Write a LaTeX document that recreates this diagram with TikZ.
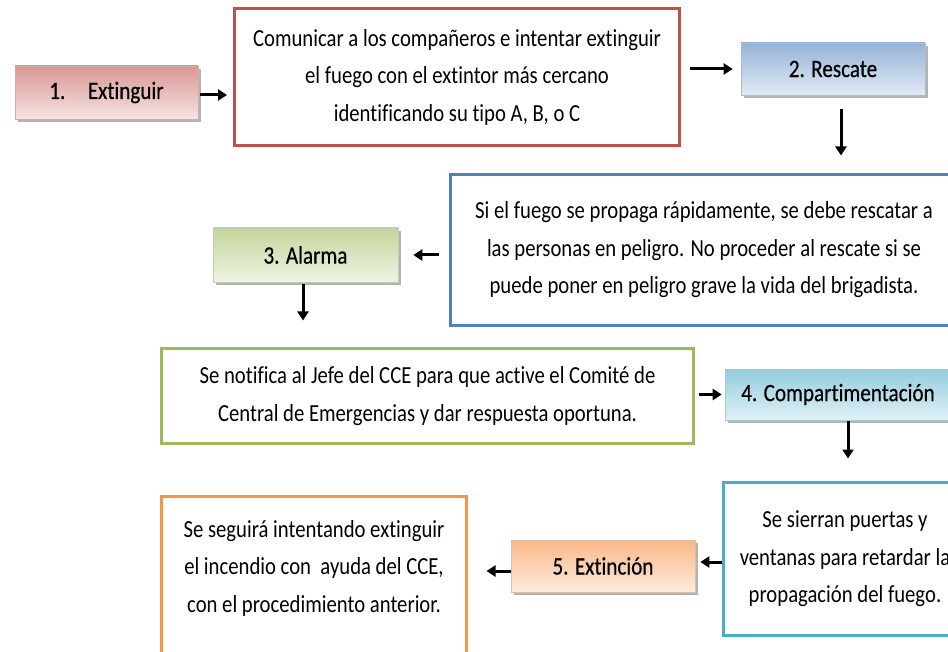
\documentclass[tikz,border=0pt]{standalone}
\usepackage{fontspec}
\setmainfont{Carlito}[FakeStretch=0.845,Ligatures=NoCommon]
\newfontfamily\lblfont{Carlito}[FakeStretch=0.845,FakeBold=0.5,Ligatures=NoCommon]
\usetikzlibrary{shadows,arrows.meta,calc}
\definecolor{cred}{HTML}{C0504D}
\definecolor{cblue}{HTML}{4F81BD}
\definecolor{cgreen}{HTML}{9BBB59}
\definecolor{caqua}{HTML}{4BACC6}
\definecolor{corange}{HTML}{F79646}
\definecolor{redA}{HTML}{D99694}\definecolor{redB}{HTML}{F6E4E3}
\definecolor{blueA}{HTML}{95B3D7}\definecolor{blueB}{HTML}{E2EAF4}
\definecolor{greenA}{HTML}{C3D69B}\definecolor{greenB}{HTML}{EEF3E2}
\definecolor{aquaA}{HTML}{93CDDD}\definecolor{aquaB}{HTML}{DFF0F5}
\definecolor{orangeA}{HTML}{FAB888}\definecolor{orangeB}{HTML}{FDEBDD}
\begin{document}
\begin{tikzpicture}[x=1pt,y=-1pt,
  lbl/.style={inner sep=0pt,line width=0.6pt,
    font=\lblfont\fontsize{25}{28}\selectfont,
    drop shadow={shadow xshift=2.5pt,shadow yshift=-3pt,fill=black!50,opacity=0.6}},
  txt/.style={draw,line width=3pt,fill=white,inner sep=0pt,align=center,
    font=\fontsize{24.5}{37.5}\selectfont},
  tfont/.style={inner sep=0pt,align=center,font=\fontsize{24.5}{37.5}\selectfont},
  arr/.style={line width=3pt,-{Triangle[length=9pt,width=11pt]}}]
\useasboundingbox (0,0) rectangle (948,652);
\clip (0,0) rectangle (948,652);

% label boxes
\node[lbl,top color=redA,bottom color=redB,draw=redA!80!black!60,minimum width=183pt,minimum height=53pt] (b1) at (106.5,92.5) {1.\hspace{0.9em}Extinguir};
\node[lbl,top color=blueA,bottom color=blueB,draw=blueA!80!black!60,minimum width=184pt,minimum height=52pt] (b2) at (833,69) {2. Rescate};
\node[lbl,top color=greenA,bottom color=greenB,draw=greenA!80!black!60,minimum width=185pt,minimum height=54pt] (b3) at (305.5,255) {3. Alarma};
\node[lbl,top color=aquaA,bottom color=aquaB,draw=aquaA!80!black!60,minimum width=226pt,minimum height=51pt] (b4) at (838,394.5) {4. Compartimentación};
\node[lbl,top color=orangeA,bottom color=orangeB,draw=orangeA!80!black!60,minimum width=184pt,minimum height=52pt] (b5) at (603,566) {5. Extinción};

% text boxes
\node[txt,draw=cred,minimum width=445pt,minimum height=137pt] (bA) at (457,77)
  {Comunicar a los compañeros e intentar extinguir\\el fuego con el extintor más cercano\\identificando su tipo A, B, o C};
\node[txt,draw=cblue,minimum width=507pt,minimum height=151pt] (bB) at (704,250)
  {Si el fuego se propaga rápidamente, se debe rescatar a\\las personas en peligro. No proceder al rescate si se\\puede poner en peligro grave la vida del brigadista.};
\node[txt,draw=cgreen,minimum width=532pt,minimum height=95pt] (bC) at (427.5,396)
  {Se notifica al Jefe del CCE para que active el Comité de\\Central de Emergencias y dar respuesta oportuna.};
\node[txt,draw=caqua,minimum width=243pt,minimum height=153pt] (bD) at (845,559)
  {Se sierran puertas y\\ventanas para retardar la\\propagación del fuego.};
\node[txt,draw=corange,minimum width=305pt,minimum height=171pt] (bE) at (314,582) {};
\node[tfont] (tE) at (314,568)
  {Se seguirá intentando extinguir\\el incendio con\ \ ayuda del CCE,\\con el procedimiento anterior.};

% connector anchor points
\coordinate (p1) at ([yshift=-2.5pt]b1.east);
\coordinate (p2) at ([xshift=8pt]b2.south);
\coordinate (p3) at ([xshift=-2.5pt]b3.south);
\coordinate (p4) at ([xshift=10pt]b4.south);
\coordinate (p5) at ([yshift=4pt]b5.east);
\coordinate (p6) at ([yshift=-5pt]b5.west);

% connectors
\draw[arr,shorten <=2pt,shorten >=6pt] (p1) -- (p1 -| bA.west);
\draw[arr,shorten <=8.5pt,shorten >=8pt] (bA.east |- b2.west) -- (b2.west);
\draw[arr,shorten <=14pt,shorten >=17.5pt] (p2) -- (p2 |- bB.north);
\draw[arr,shorten <=10.5pt,shorten >=15pt] (bB.west |- b3.east) -- (b3.east);
\draw[arr,shorten <=2pt,shorten >=26.5pt] (p3) -- (p3 |- bC.north);
\draw[arr,shorten <=3.5pt,shorten >=3pt] (bC.east |- b4.west) -- (b4.west);
\draw[arr,shorten <=1pt,shorten >=22.5pt] (p4) -- (p4 |- bD.north);
\draw[arr,shorten <=0pt,shorten >=5pt] (bD.west |- p5) -- (p5);
\draw[arr,shorten <=0pt,shorten >=18.5pt] (p6) -- (p6 -| bE.east);
\end{tikzpicture}
\end{document}
